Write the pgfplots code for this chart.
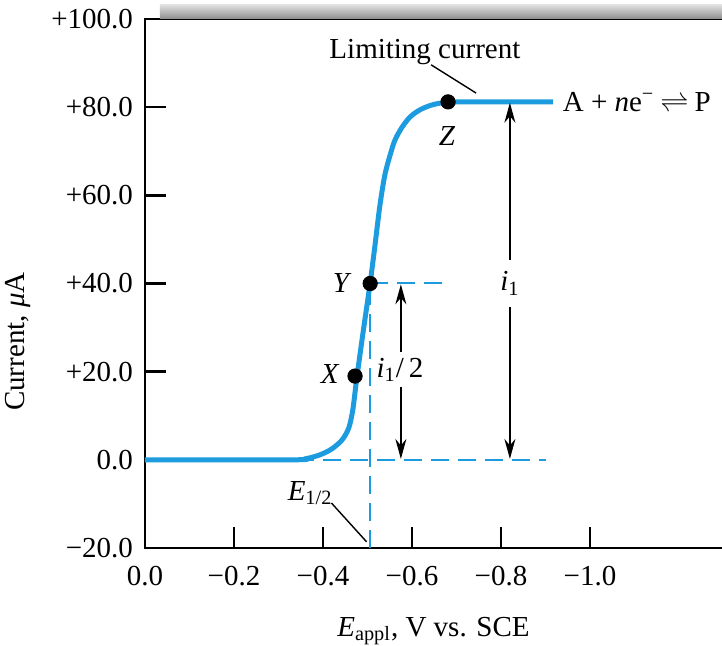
\documentclass[border=0pt]{standalone}
\usepackage{fontspec}
\setmainfont{Liberation Serif}
\usepackage{pgfplots}
\pgfplotsset{compat=1.18}
\usetikzlibrary{arrows.meta}
\definecolor{curve}{HTML}{1C9CDE}

\begin{document}
\fontsize{14.5}{17}\selectfont
\begin{tikzpicture}
\begin{axis}[
    name=ax,
    scale only axis,
    width=288.5pt, height=264.5pt,
    x dir=reverse,
    xmin=-1.2966, xmax=0,
    ymin=-20, ymax=100,
    axis line style={draw=none},
    xtick={0,-0.2,-0.4,-0.6,-0.8,-1.0},
    xticklabels={0.0,−0.2,−0.4,−0.6,−0.8,−1.0},
    ytick={-20,0,20,40,60,80,100},
    yticklabels={−20.0,0.0,+20.0,+40.0,+60.0,+80.0,+100.0},
    xtick pos=bottom, ytick pos=left,
    tick align=inside,
    major tick length=10.5pt,
    tick style={black, line width=1.2pt},
    xticklabel style={yshift=-4pt},
    yticklabel style={xshift=-1pt},
    xlabel={\textit{E}\textsubscript{appl}, V vs. SCE},
    xlabel style={at={(rel axis cs:0.5,0)}, anchor=center, yshift=-41.5pt},
    ylabel={Current, \textit{μ}A},
    ylabel style={at={([xshift=-63.5pt]axis cs:0,26.8)}, anchor=center},
    clip=false,
]
% axis frame (left, bottom, top)
\draw[line width=1.25pt] (axis cs:-1.2966,100) -- (axis cs:0,100) -- (axis cs:0,-20) -- (axis cs:-1.2966,-20);
\shade[top color=gray!25, bottom color=gray!90] (axis cs:-0.0337,100) rectangle ([yshift=7pt]axis cs:-1.2966,100);

% dashed guides
\addplot[curve, line width=1pt, dash pattern=on 9pt off 4.5pt] coordinates {(-0.506,-20) (-0.506,40)};
\addplot[curve, line width=1pt, dash pattern=on 9pt off 4.5pt] coordinates {(-0.506,40) (-0.680,40)};
\addplot[curve, line width=1pt, dash pattern=on 9pt off 4.5pt] coordinates {(-0.340,0) (-0.900,0)};

% polarographic wave
\addplot[curve, line width=2.5pt, smooth, tension=0.5] coordinates {
(0,0) (-0.326,0) (-0.360,0.23) (-0.393,1.13) (-0.420,2.49) (-0.443,4.54)
(-0.458,7.26) (-0.467,11.34) (-0.474,17.0) (-0.483,23.8) (-0.494,31.7)
(-0.506,40.1) (-0.517,48.8) (-0.528,57.8) (-0.539,64.6) (-0.551,69.2)
(-0.562,72.6) (-0.578,75.5) (-0.596,77.8) (-0.618,79.4) (-0.645,80.5)
(-0.679,81.1) (-0.750,81.2) (-0.917,81.2)};

% points X, Y, Z
\addplot[only marks, mark=*, mark size=3.6pt, black] coordinates {(-0.472,19) (-0.506,40) (-0.681,81.2)};

% arrows
\addplot[black, line width=0.8pt, -{Stealth[length=10pt,width=5.5pt]}] coordinates {(-0.820,45.4) (-0.820,81.0)};
\addplot[black, line width=0.8pt, -{Stealth[length=10pt,width=5.5pt]}] coordinates {(-0.820,34.7) (-0.820,0.2)};
\addplot[black, line width=0.8pt, -{Stealth[length=10pt,width=5.5pt]}] coordinates {(-0.575,24.5) (-0.575,39.8)};
\addplot[black, line width=0.8pt, -{Stealth[length=10pt,width=5.5pt]}] coordinates {(-0.575,16.5) (-0.575,0.2)};

% leader lines
\addplot[black, line width=0.7pt] coordinates {(-0.643,89.6) (-0.744,83.2)};
\addplot[black, line width=0.7pt] coordinates {(-0.419,-9.8) (-0.498,-18.6)};

% labels
\node at (axis cs:-0.629,92.5) {Limiting current};
\node[anchor=west, inner sep=0pt] at (axis cs:-0.938,81.2) {A + \textit{n}e\textsuperscript{−}\hspace{3pt}$\rightleftharpoons$\hspace{3pt}P};
\node at (axis cs:-0.416,19.5) {\textit{X}};
\node at (axis cs:-0.443,40) {\textit{Y}};
\node at (axis cs:-0.679,73.5) {\textit{Z}};
\node at (axis cs:-0.573,20.4) {\textit{i}\textsubscript{1}/\,2};
\node at (axis cs:-0.820,40) {\textit{i}\textsubscript{1}};
\node at (axis cs:-0.371,-7.5) {\textit{E}\textsubscript{1/2}};
\end{axis}
\pgfresetboundingbox
\path[use as bounding box] ([xshift=-72.5pt,yshift=-49pt]ax.south west) rectangle ([yshift=9.5pt]ax.north east);
\end{tikzpicture}
\end{document}
